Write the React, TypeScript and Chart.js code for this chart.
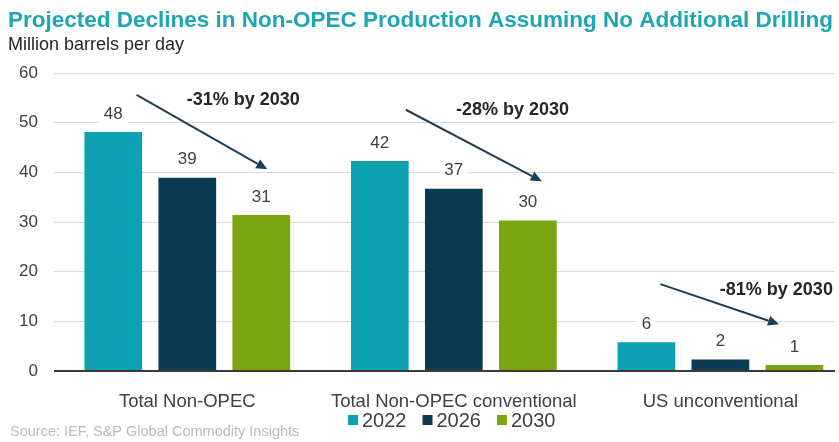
import React, { useEffect, useRef } from "react";
import { Chart, registerables } from "chart.js";

Chart.register(...registerables);

const FONT = '"Liberation Sans", Arial, sans-serif';

const titleText = "Projected Declines in Non-OPEC Production Assuming No Additional Drilling";
const subtitleText = "Million barrels per day";
const sourceText = "Source: IEF, S&P Global Commodity Insights";

const categories = ["Total Non-OPEC", "Total Non-OPEC conventional", "US unconventional"];
const seriesLabels = ["2022", "2026", "2030"];
const values2022 = [48.1, 42.3, 5.8];
const values2026 = [38.9, 36.7, 2.3];
const values2030 = [31.4, 30.3, 1.2];
const seriesColors = ["#0ea1b1", "#0b3c54", "#7aa510"];
const yTicks = [0, 10, 20, 30, 40, 50, 60];

const changeLabels = ["-31% by 2030", "-28% by 2030", "-81% by 2030"];
const changeLabelX = [0.21, 1.22, 2.21];
const changeLabelY = [54.6, 52.6, 16.3];
const arrowStartX = [-0.19, 0.82, 1.775];
const arrowStartY = [55.6, 52.6, 17.5];
const arrowEndX = [0.3, 1.33, 2.22];
const arrowEndY = [40.6, 38.2, 9.4];

const seriesValues = [values2022, values2026, values2030];

const overlayPlugin = {
  id: "overlay",
  afterDatasetsDraw(chart: any) {
    const ctx = chart.ctx;
    const xs = chart.scales.x;
    const ys = chart.scales.y;
    ctx.save();
    ctx.font = `17px ${FONT}`;
    ctx.textAlign = "center";
    ctx.textBaseline = "middle";
    chart.data.datasets.forEach((ds: any, di: number) => {
      const meta = chart.getDatasetMeta(di);
      meta.data.forEach((el: any, i: number) => {
        const text = Math.round(seriesValues[di][i]).toString();
        const y = el.y - 18;
        const w = ctx.measureText(text).width + 10;
        ctx.fillStyle = "#ffffff";
        ctx.fillRect(el.x - w / 2, y - 11, w, 22);
        ctx.fillStyle = "#404040";
        ctx.fillText(text, el.x, y);
      });
    });
    changeLabels.forEach((lab, k) => {
      const x1 = xs.getPixelForValue(arrowStartX[k]);
      const y1 = ys.getPixelForValue(arrowStartY[k]);
      const x2 = xs.getPixelForValue(arrowEndX[k]);
      const y2 = ys.getPixelForValue(arrowEndY[k]);
      const ang = Math.atan2(y2 - y1, x2 - x1);
      const head = 11;
      const hw = 5;
      ctx.strokeStyle = "#1c3f55";
      ctx.fillStyle = "#1c3f55";
      ctx.lineWidth = 2;
      ctx.beginPath();
      ctx.moveTo(x1, y1);
      ctx.lineTo(x2 - Math.cos(ang) * head, y2 - Math.sin(ang) * head);
      ctx.stroke();
      ctx.beginPath();
      ctx.moveTo(x2, y2);
      ctx.lineTo(
        x2 - Math.cos(ang) * head - Math.sin(ang) * hw,
        y2 - Math.sin(ang) * head + Math.cos(ang) * hw
      );
      ctx.lineTo(
        x2 - Math.cos(ang) * head + Math.sin(ang) * hw,
        y2 - Math.sin(ang) * head - Math.cos(ang) * hw
      );
      ctx.closePath();
      ctx.fill();
      ctx.font = `bold 18px ${FONT}`;
      ctx.fillStyle = "#262626";
      ctx.textAlign = "center";
      ctx.fillText(lab, xs.getPixelForValue(changeLabelX[k]), ys.getPixelForValue(changeLabelY[k]));
    });
    ctx.restore();
  },
  afterDraw(chart: any) {
    const ctx = chart.ctx;
    ctx.save();
    ctx.textAlign = "left";
    ctx.textBaseline = "alphabetic";
    ctx.font = `bold 22.5px ${FONT}`;
    ctx.fillStyle = "#1ea5b4";
    ctx.fillText(titleText, 8, 27);
    ctx.font = `18px ${FONT}`;
    ctx.fillStyle = "#262626";
    ctx.fillText(subtitleText, 8, 50);
    ctx.font = `20px ${FONT}`;
    ctx.textBaseline = "middle";
    let x = 348;
    const ly = 420;
    seriesLabels.forEach((lab, i) => {
      ctx.fillStyle = seriesColors[i];
      ctx.fillRect(x, ly - 5, 10, 10);
      x += 14;
      ctx.fillStyle = "#404040";
      ctx.fillText(lab, x, ly + 1);
      x += ctx.measureText(lab).width + 16;
    });
    ctx.font = `14.5px ${FONT}`;
    ctx.fillStyle = "#bababa";
    ctx.fillText(sourceText, 10, 432);
    ctx.restore();
  },
};

export default function App() {
  const ref = useRef<HTMLCanvasElement | null>(null);
  useEffect(() => {
    if (!ref.current) return;
    const chart = new Chart(ref.current, {
      type: "bar",
      data: {
        datasets: seriesLabels.map((lab, di) => ({
          label: lab,
          data: seriesValues[di].map((v, i) => ({ x: i, y: v })),
          backgroundColor: seriesColors[di],
          borderWidth: 0,
          barPercentage: 0.78,
          categoryPercentage: 0.833,
        })),
      },
      options: {
        responsive: false,
        animation: false,
        layout: { padding: { top: 73, right: 4, left: 0, bottom: 0 } },
        plugins: { legend: { display: false }, tooltip: { enabled: false }, title: { display: false } },
        scales: {
          x: {
            type: "linear",
            min: -0.5,
            max: 2.43,
            offset: false,
            grid: { display: false, offset: false },
            border: { display: false },
            ticks: {
              autoSkip: false,
              maxRotation: 0,
              minRotation: 0,
              padding: 12,
              color: "#404040",
              font: { family: FONT, size: 18.5 },
              callback: (v: any) => categories[v as number] ?? "",
            },
            afterBuildTicks: (s: any) => {
              s.ticks = categories.map((_, i) => ({ value: i }));
            },
            afterFit: (s: any) => {
              s.height = 71;
            },
          },
          y: {
            min: 0,
            max: 60,
            afterBuildTicks: (s: any) => {
              s.ticks = yTicks.map((v) => ({ value: v }));
            },
            ticks: {
              padding: 16,
              color: "#404040",
              font: { family: FONT, size: 17 },
            },
            grid: {
              drawTicks: false,
              color: (c: any) => (c.tick && c.tick.value === 0 ? "#3a3a3a" : "#d9d9d9"),
              lineWidth: (c: any) => (c.tick && c.tick.value === 0 ? 2 : 1),
            },
            border: { display: false },
            afterFit: (s: any) => {
              s.width = 54;
            },
          },
        },
      } as any,
      plugins: [overlayPlugin],
    });
    return () => chart.destroy();
  }, []);
  return (
    <div style={{ position: "fixed", left: 0, top: 0, width: 839, height: 442, background: "#fff" }}>
      <canvas ref={ref} width={839} height={442} style={{ display: "block" }} />
    </div>
  );
}
